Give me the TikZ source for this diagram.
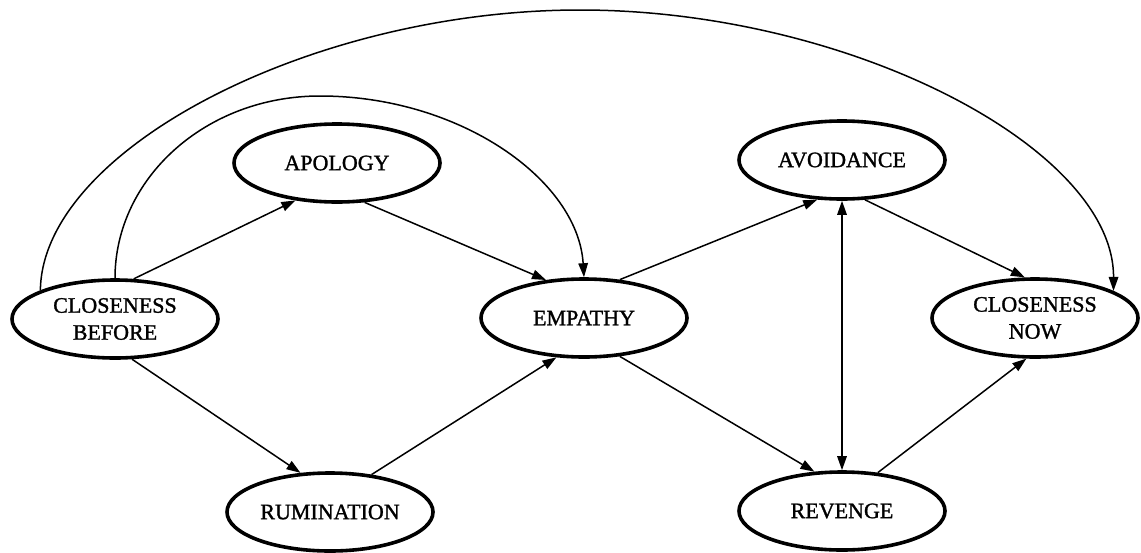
\documentclass[tikz,border=0pt]{standalone}
\usepackage{fontspec}
\setmainfont{Liberation Serif}
\newfontfamily\inkfont[FakeBold=1.3]{Liberation Serif}
\usetikzlibrary{shapes.geometric,arrows.meta}
\begin{document}
\begin{tikzpicture}[x=1pt,y=-1pt,
  var/.style={ellipse,draw,line width=3.6pt,minimum width=206pt,minimum height=78pt,inner sep=0pt,align=center,font=\inkfont\fontsize{22}{27}\selectfont},
  conn/.style={line width=1.5pt,-{Triangle[length=14pt,width=9.5pt]}},
  dconn/.style={line width=1.5pt,{Triangle[length=14pt,width=9.5pt]}-{Triangle[length=14pt,width=9.5pt]}},
]
\useasboundingbox (0,0) rectangle (1141,552);
\node[var] (cb) at (115,319) {CLOSENESS\\BEFORE};
\node[var] (ap) at (337,163) {APOLOGY};
\node[var] (em) at (584,318) {EMPATHY};
\node[var] (ru) at (330,512) {RUMINATION};
\node[var] (av) at (842,160) {AVOIDANCE};
\node[var] (rv) at (842,511) {REVENGE};
\node[var] (cn) at (1035,318) {CLOSENESS\\NOW};

% arcs
\draw[conn] (cb.90) .. controls (115,179) and (205,96) .. (320,96) .. controls (460,96) and (578,180) .. (em.90);
\draw[conn] (cb.159) .. controls (42,150) and (311,10) .. (580,10) .. controls (849,10) and (1114,148) .. (cn.19);

% straight connectors
\draw[conn] (cb.65) -- (ap.222);
\draw[conn] (ap.305) -- (em.135);
\draw[conn] (cb.293) -- (ru.127);
\draw[conn] (ru.42) -- (em.235);
\draw[conn] (em.47) -- (av.238);
\draw[conn] (em.313) -- (rv.125);
\draw[dconn] (av.270) -- (rv.90);
\draw[conn] (av.300) -- (cn.104);
\draw[conn] (rv.47) -- (cn.258);
\end{tikzpicture}
\end{document}
